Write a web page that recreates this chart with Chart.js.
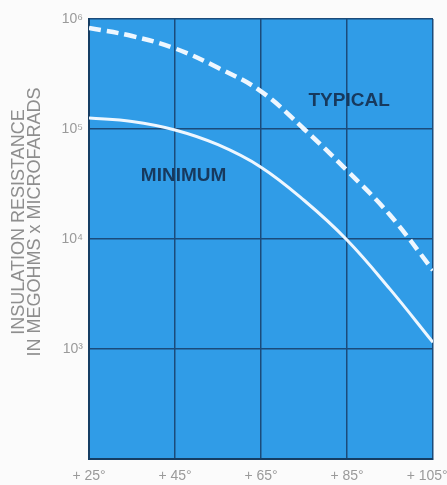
<!DOCTYPE html>
<html>
<head>
<meta charset="utf-8">
<script src="https://cdn.jsdelivr.net/npm/chart.js@4"></script>
<style>
  html, body { margin: 0; padding: 0; background: #fbfbfb; }
  #wrap { width: 447px; height: 485px; }
</style>
</head>
<body>
<div id="wrap"><canvas id="chart"></canvas></div>
<script>
// temperature in °C
const temps = [25, 35, 45, 55, 65, 75, 85, 95, 105]
// megohms x microfarads
const typical = [8.3e5, 7.0e5, 5.4e5, 3.6e5, 2.2e5, 1.0e5, 4.2e4, 1.65e4, 5.2e3]
const minimum = [1.26e5, 1.17e5, 9.8e4, 7.2e4, 4.5e4, 2.25e4, 9.8e3, 3.5e3, 1.15e3]

const xTicks = [25, 45, 65, 85, 105]
const yTicks = [1e2, 1e3, 1e4, 1e5, 1e6]
const yTickLabels = ['', '10³', '10⁴', '10⁵', '10⁶']

const curveNames = ['TYPICAL', 'MINIMUM']
const nameX = [85.5, 47]
const nameY = [1.8e5, 3.75e4]

const yTitle = ['INSULATION RESISTANCE', 'IN MEGOHMS x MICROFARADS']

const plotBg = {
  id: 'plotBg',
  beforeDraw(chart) {
    const { ctx, chartArea: a } = chart
    ctx.save()
    ctx.fillStyle = '#309ce7'
    ctx.fillRect(a.left, a.top, a.right - a.left, a.bottom - a.top)
    ctx.restore()
  }
}

const textBits = {
  id: 'textBits',
  afterDatasetsDraw(chart) {
    const { ctx, scales } = chart
    ctx.save()
    ctx.fillStyle = '#17395d'
    ctx.font = 'bold 19px "Liberation Sans", Arial, sans-serif'
    ctx.textAlign = 'center'
    ctx.textBaseline = 'middle'
    curveNames.forEach((n, i) => {
      ctx.fillText(n, scales.x.getPixelForValue(nameX[i]), scales.y.getPixelForValue(nameY[i]))
    })
    ctx.restore()
  },
  afterDraw(chart) {
    // y axis title sits a bit above the middle of the plot
    const { ctx } = chart
    ctx.save()
    ctx.fillStyle = '#8e8e8e'
    ctx.font = '18px "Liberation Sans", Arial, sans-serif'
    ctx.textAlign = 'center'
    ctx.textBaseline = 'middle'
    ctx.translate(0, 222)
    ctx.rotate(-Math.PI / 2)
    ctx.fillText(yTitle[0], 0, 19)
    ctx.fillText(yTitle[1], 0, 35)
    ctx.restore()
  }
}

const gridColor = '#1b4b7a'

new Chart(document.getElementById('chart'), {
  type: 'line',
  data: {
    datasets: [
      {
        label: 'Typical',
        data: temps.map((t, i) => ({ x: t, y: typical[i] })),
        borderColor: '#eef7ff',
        borderWidth: 4.5,
        borderDash: [12, 6],
        pointRadius: 0,
        tension: 0.4
      },
      {
        label: 'Minimum',
        data: temps.map((t, i) => ({ x: t, y: minimum[i] })),
        borderColor: '#eef7ff',
        borderWidth: 3,
        pointRadius: 0,
        tension: 0.4
      }
    ]
  },
  options: {
    responsive: true,
    maintainAspectRatio: false,
    animation: false,
    layout: { padding: { top: 19, right: 14, bottom: 0, left: 0 } },
    plugins: { legend: { display: false }, tooltip: { enabled: false } },
    scales: {
      x: {
        type: 'linear',
        min: 25,
        max: 105,
        afterBuildTicks: s => { s.ticks = xTicks.map(v => ({ value: v })) },
        afterFit: s => { s.height = 26; s.paddingLeft = 0; s.paddingRight = 0 },
        grid: { color: gridColor, lineWidth: 1.5, drawTicks: false },
        border: { color: '#153d63', width: 2 },
        ticks: {
          color: '#9a9a9a',
          padding: 9,
          maxRotation: 0,
          font: { size: 14, family: '"Liberation Sans", Arial, sans-serif' },
          callback: v => '+ ' + v + '°' + (v === 105 ? '   ' : '')
        }
      },
      y: {
        type: 'logarithmic',
        min: 100,
        max: 1e6,
        afterBuildTicks: s => { s.ticks = yTicks.map(v => ({ value: v })) },
        afterFit: s => { s.width = 89 },
        grid: { color: gridColor, lineWidth: 1.5, drawTicks: false },
        border: { color: '#153d63', width: 2 },
        ticks: {
          color: '#9a9a9a',
          padding: 6,
          font: { size: 14, family: '"Liberation Sans", Arial, sans-serif' },
          callback: v => yTickLabels[yTicks.indexOf(v)]
        }
      }
    }
  },
  plugins: [plotBg, textBits]
})
</script>
</body>
</html>
